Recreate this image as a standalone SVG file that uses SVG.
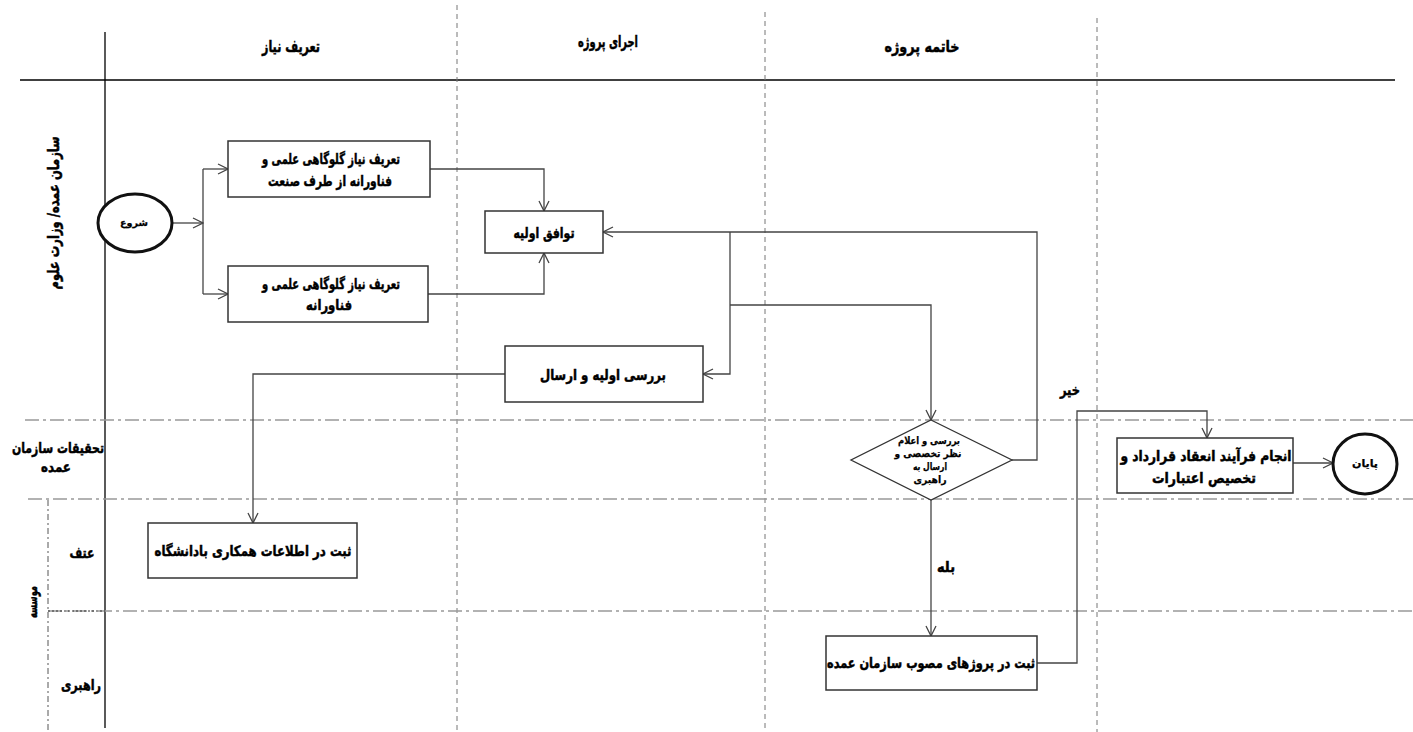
<svg xmlns="http://www.w3.org/2000/svg" width="1413" height="732" viewBox="0 0 1413 732">
<style>
text{font-family:"DejaVu Sans","Noto Sans",sans-serif;font-weight:bold;fill:#000;stroke:#000;stroke-width:0.5;text-anchor:middle;}
.hd{font-size:16px;}
.bx{font-size:14.5px;}
.sm{font-size:10px;stroke-width:0.25;}
.node rect{fill:#fff;stroke:#333;stroke-width:1.5;}
.conn{fill:none;stroke:#444;stroke-width:1.3;}
.dash{stroke:#777;stroke-width:1;stroke-dasharray:5,4;fill:none;}
.dd{stroke:#999;stroke-width:1.5;stroke-dasharray:14,4,3,4;fill:none;}
</style>
<defs>
<marker id="arr" viewBox="0 0 12 12" refX="11" refY="6" markerWidth="12" markerHeight="12" markerUnits="userSpaceOnUse" orient="auto">
<path d="M1,1 L11,6 L1,11" fill="none" stroke="#444" stroke-width="1.3"/>
</marker>
</defs>
<rect width="1413" height="732" fill="#fff"/>
<g id="grid">
<line x1="20" y1="80" x2="1395" y2="80" stroke="#000" stroke-width="1.5"/>
<line x1="105" y1="32" x2="105" y2="728" stroke="#000" stroke-width="1.3"/>
<line class="dash" x1="457" y1="5" x2="457" y2="732"/>
<line class="dash" x1="765" y1="12" x2="765" y2="732"/>
<line class="dash" x1="1097" y1="18" x2="1097" y2="732"/>
<line class="dd" x1="25" y1="420" x2="1413" y2="420"/>
<line class="dd" x1="28" y1="499" x2="1413" y2="499" stroke="#222"/>
<line class="dd" x1="48" y1="611" x2="1413" y2="611"/>
<line x1="48" y1="611" x2="105" y2="611" stroke="#333" stroke-width="1" stroke-dasharray="2,2"/>
<line x1="48" y1="500" x2="48" y2="732" stroke="#555" stroke-width="1" stroke-dasharray="6,3,2,3"/>
</g>
<g id="labels">
<text class="hd" x="291" y="52" textLength="58" lengthAdjust="spacingAndGlyphs">تعریف نیاز</text>
<text class="hd" x="608" y="47" textLength="60" lengthAdjust="spacingAndGlyphs">اجرای پروژه</text>
<text class="hd" x="922" y="52" textLength="75" lengthAdjust="spacingAndGlyphs">خاتمه پروژه</text>
<text class="hd" transform="translate(59,213) rotate(-90)" textLength="153" lengthAdjust="spacingAndGlyphs">سازمان عمده/ وزارت علوم</text>
<text class="bx" x="58" y="453" textLength="92" lengthAdjust="spacingAndGlyphs">تحقیقات سازمان</text>
<text class="bx" x="56" y="472" textLength="30" lengthAdjust="spacingAndGlyphs">عمده</text>
<text class="bx" x="82" y="558" textLength="25" lengthAdjust="spacingAndGlyphs">عتف</text>
<text class="bx" transform="translate(37,602) rotate(-90)" textLength="32" lengthAdjust="spacingAndGlyphs">موسسه</text>
<text class="bx" x="81" y="690" textLength="40" lengthAdjust="spacingAndGlyphs">راهبری</text>
<text class="bx" x="946" y="572" textLength="18" lengthAdjust="spacingAndGlyphs">بله</text>
<text class="bx" x="1070" y="395" textLength="20" lengthAdjust="spacingAndGlyphs">خیر</text>
</g>
<g id="connectors">
<path class="conn" d="M173,223 L203,223" marker-end="url(#arr)"/>
<path class="conn" d="M203,169 L203,294"/>
<path class="conn" d="M203,169 L228,169" marker-end="url(#arr)"/>
<path class="conn" d="M203,294 L228,294" marker-end="url(#arr)"/>
<path class="conn" d="M430,169 L544,169 L544,211" marker-end="url(#arr)"/>
<path class="conn" d="M428,294 L544,294 L544,253" marker-end="url(#arr)"/>
<path class="conn" d="M1012,460 L1037,460 L1037,232 L603,232" marker-end="url(#arr)"/>
<path class="conn" d="M730,232 L730,374 L703,374" marker-end="url(#arr)"/>
<path class="conn" d="M730,305 L931,305 L931,420" marker-end="url(#arr)"/>
<path class="conn" d="M505,374 L253,374 L253,523" marker-end="url(#arr)"/>
<path class="conn" d="M931,500 L931,636" marker-end="url(#arr)"/>
<path class="conn" d="M1037,663 L1077,663 L1077,411 L1207,411 L1207,438" marker-end="url(#arr)"/>
<path class="conn" d="M1293,463 L1333,463" marker-end="url(#arr)"/>
</g>
<g id="start">
<ellipse cx="135" cy="223" rx="37" ry="29" fill="#fff" stroke="#111" stroke-width="3"/>
<text class="sm" x="134" y="226" textLength="28" lengthAdjust="spacingAndGlyphs">شروع</text>
</g>
<g id="node1" class="node">
<rect x="228" y="141" width="202" height="56"/>
<text class="bx" x="331" y="164" textLength="138" lengthAdjust="spacingAndGlyphs">تعریف نیاز گلوگاهی علمی و</text>
<text class="bx" x="330" y="186" textLength="124" lengthAdjust="spacingAndGlyphs">فناورانه از طرف صنعت</text>
</g>
<g id="node2" class="node">
<rect x="228" y="266" width="200" height="56"/>
<text class="bx" x="331" y="289" textLength="138" lengthAdjust="spacingAndGlyphs">تعریف نیاز گلوگاهی علمی و</text>
<text class="bx" x="329" y="310" textLength="46" lengthAdjust="spacingAndGlyphs">فناورانه</text>
</g>
<g id="node3" class="node">
<rect x="485" y="211" width="118" height="42"/>
<text class="bx" x="544" y="238" textLength="61" lengthAdjust="spacingAndGlyphs">توافق اولیه</text>
</g>
<g id="node4" class="node">
<rect x="505" y="346" width="198" height="56"/>
<text class="bx" x="603" y="380" textLength="126" lengthAdjust="spacingAndGlyphs">بررسی اولیه و ارسال</text>
</g>
<g id="node5" class="node">
<rect x="148" y="523" width="209" height="55"/>
<text class="bx" x="253" y="556" textLength="197" lengthAdjust="spacingAndGlyphs">ثبت در اطلاعات همکاری بادانشگاه</text>
</g>
<g id="decision">
<polygon points="931,420 1012,460 931,500 851,460" fill="#fff" stroke="#333" stroke-width="1.3"/>
<text class="sm" x="929" y="444" textLength="62" lengthAdjust="spacingAndGlyphs">بررسی و اعلام</text>
<text class="sm" x="928" y="457" textLength="67" lengthAdjust="spacingAndGlyphs">نظر تخصصی و</text>
<text class="sm" x="930" y="470" textLength="34" lengthAdjust="spacingAndGlyphs">ارسال به</text>
<text class="sm" x="930" y="483" textLength="33" lengthAdjust="spacingAndGlyphs">راهبری</text>
</g>
<g id="node6" class="node">
<rect x="826" y="636" width="211" height="54"/>
<text class="bx" x="931" y="668" textLength="208" lengthAdjust="spacingAndGlyphs">ثبت در پروژهای مصوب سازمان عمده</text>
</g>
<g id="node7" class="node">
<rect x="1117" y="438" width="176" height="55"/>
<text class="bx" x="1206" y="461" textLength="171" lengthAdjust="spacingAndGlyphs">انجام فرآیند انعقاد قرارداد و</text>
<text class="bx" x="1204" y="483" textLength="104" lengthAdjust="spacingAndGlyphs">تخصیص اعتبارات</text>
</g>
<g id="end">
<ellipse cx="1365" cy="464" rx="32" ry="30" fill="#fff" stroke="#111" stroke-width="3"/>
<text class="sm" x="1365" y="467" textLength="26" lengthAdjust="spacingAndGlyphs">پایان</text>
</g>
</svg>
